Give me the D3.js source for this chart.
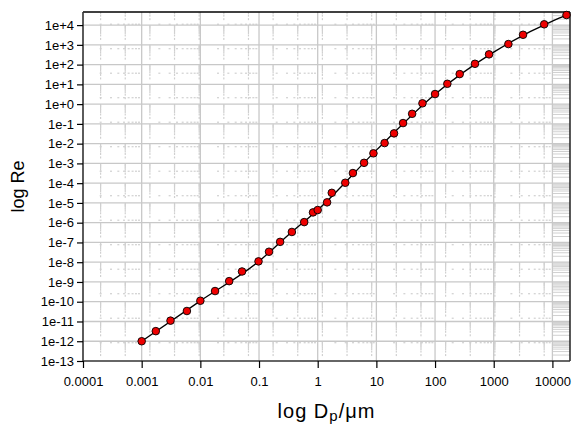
<!DOCTYPE html>
<html>
<head>
<meta charset="utf-8">
<script src="https://cdn.jsdelivr.net/npm/d3@7"></script>
<style>
  body { margin: 0; background: #fff; }
  svg { display: block; font-family: "Liberation Sans", Arial, sans-serif; }
</style>
</head>
<body>
<svg id="chart" width="572" height="427"></svg>
<script>
// ---- data ----
const pointD  = [0.001, 0.00174, 0.0031, 0.0059, 0.01, 0.0178, 0.031, 0.0513, 0.098, 0.148,
                 0.229, 0.363, 0.589, 0.832, 1.0, 1.445, 1.738, 2.95, 3.98, 6.17,
                 8.91, 13.8, 20.0, 28.5, 40.7, 61.0, 100, 162, 263, 479,
                 832, 1778, 3162, 7244, 17378];
const pointRe = [1.0e-12, 3.24e-12, 1.10e-11, 3.39e-11, 1.12e-10, 3.47e-10, 1.10e-9, 3.39e-9, 1.10e-8, 3.39e-8,
                 1.07e-7, 3.39e-7, 1.07e-6, 3.31e-6, 4.37e-6, 1.07e-5, 3.24e-5, 1.05e-4, 3.24e-4, 1.07e-3,
                 3.24e-3, 1.07e-2, 3.31e-2, 0.110, 0.324, 1.10, 3.24, 10.7, 33.1, 110,
                 331, 1096, 3236, 10965, 32359];
// fitted curve, knots
const curveD  = [0.001, 0.01, 0.1, 0.316, 1, 10, 100, 1000, 10000, 19953];
const curveRe = [1.0e-12, 1.1e-10, 1.12e-8, 2.4e-7, 4.4e-6, 4.7e-3, 3.2, 430, 1.6e4, 3.7e4];

const xTicks = [1e-4, 1e-3, 1e-2, 1e-1, 1, 10, 100, 1000, 10000];
const xTickLabels = ["0.0001", "0.001", "0.01", "0.1", "1", "10", "100", "1000", "10000"];
const yTicks = [1e4, 1e3, 1e2, 1e1, 1e0, 1e-1, 1e-2, 1e-3, 1e-4, 1e-5, 1e-6, 1e-7, 1e-8, 1e-9, 1e-10, 1e-11, 1e-12, 1e-13];
const yTickLabels = ["1e+4", "1e+3", "1e+2", "1e+1", "1e+0", "1e-1", "1e-2", "1e-3", "1e-4", "1e-5", "1e-6",
                     "1e-7", "1e-8", "1e-9", "1e-10", "1e-11", "1e-12", "1e-13"];
const xDomain = [1e-4, 19953];
const yDomain = [1e-13, 4.6e4];

// ---- layout ----
const svg = d3.select("#chart");
const L = 83, R = 570, T = 12, B = 361;
const x = d3.scaleLog().domain(xDomain).range([L, R]);
const y = d3.scaleLog().domain(yDomain).range([B, T]);

const gridCol = "#c8c8c8";
const g = svg.append("g");

// minor log positions
const minorX = [];
for (let e = -4; e <= 4; e++) for (let m = 2; m <= 9; m++) { const v = m * Math.pow(10, e); if (v < xDomain[1]) minorX.push(v); }
const minorY = [];
for (let e = -13; e <= 4; e++) for (let m = 2; m <= 9; m++) { const v = m * Math.pow(10, e); if (v < yDomain[1]) minorY.push(v); }

// faint dotted decorative grid (rows/columns of minor-tick dashes)
const rowLog = d3.range(4.05, -13, -1.24);
const colLog = d3.range(-3.7, 4.0, 0.42);
const decor = g.append("g").attr("fill", "#d0d0d0");
rowLog.forEach(r => {
  const yy = y(Math.pow(10, r));
  decor.selectAll(null).data(minorX.filter(v => v < 10000)).enter().append("rect")
    .attr("x", d => x(d) - 1).attr("y", yy - 0.5).attr("width", 2).attr("height", 1.2);
});
colLog.forEach(c => {
  const xx = x(Math.pow(10, c));
  decor.selectAll(null).data(minorY).enter().append("rect")
    .attr("x", xx - 0.6).attr("y", d => y(d) - 1).attr("width", 1.2).attr("height", 2);
});

// dense minor horizontal lines in the last decade band
g.append("g").selectAll("line").data(minorY).enter().append("line")
  .attr("x1", x(10000)).attr("x2", R).attr("y1", d => y(d)).attr("y2", d => y(d))
  .attr("stroke", "#d0d0d0").attr("stroke-width", 1);

// major grid
g.append("g").selectAll("line").data(xTicks.slice(1)).enter().append("line")
  .attr("x1", d => x(d)).attr("x2", d => x(d)).attr("y1", T).attr("y2", B)
  .attr("stroke", gridCol).attr("stroke-width", 1.3);
g.append("g").selectAll("line").data(yTicks.slice(0, -1)).enter().append("line")
  .attr("x1", L).attr("x2", R).attr("y1", d => y(d)).attr("y2", d => y(d))
  .attr("stroke", gridCol).attr("stroke-width", 1.3);

// frame
svg.append("line").attr("x1", L).attr("x2", R).attr("y1", T).attr("y2", T).attr("stroke", "#000").attr("stroke-width", 1.5);
svg.append("line").attr("x1", R).attr("x2", R).attr("y1", T).attr("y2", B).attr("stroke", "#222").attr("stroke-width", 1.5);

// axes
const xAxis = d3.axisBottom(x).tickValues(xTicks).tickFormat((d, i) => xTickLabels[i]).tickSize(7).tickPadding(9);
const yAxis = d3.axisLeft(y).tickValues(yTicks).tickFormat((d, i) => yTickLabels[i]).tickSize(6).tickPadding(3);
const gx = svg.append("g").attr("transform", `translate(0,${B})`).call(xAxis);
const gy = svg.append("g").attr("transform", `translate(${L},0)`).call(yAxis);
[gx, gy].forEach(a => {
  a.select(".domain").attr("stroke", "#333").attr("stroke-width", 1.6);
  a.selectAll(".tick line").attr("stroke", "#000").attr("stroke-width", 1.2);
  a.selectAll(".tick text").attr("fill", "#000").style("font-size", "13px")
    .style("font-family", '"Liberation Sans", Arial, sans-serif');
});
gx.select(".domain").attr("d", `M${L},0H${R}`);
gy.select(".domain").attr("d", `M0,${T}V${B}`);

// curve
const line = d3.line().x((d, i) => x(curveD[i])).y((d, i) => y(curveRe[i])).curve(d3.curveMonotoneX);
svg.append("path").datum(curveD).attr("d", line).attr("fill", "none").attr("stroke", "#000").attr("stroke-width", 1.3);

// points
svg.append("g").selectAll("circle").data(pointD).enter().append("circle")
  .attr("cx", d => x(d)).attr("cy", (d, i) => y(pointRe[i])).attr("r", 3.8)
  .attr("fill", "#ee0000").attr("stroke", "#000").attr("stroke-width", 0.9);

// axis titles
svg.append("text").attr("transform", `translate(24,${(T + B) / 2}) rotate(-90)`)
  .attr("text-anchor", "middle").style("font-size", "18px").text("log Re");
const xt = svg.append("text").attr("x", (L + R) / 2).attr("y", 418).attr("text-anchor", "middle")
  .style("font-size", "20px").style("letter-spacing", "1px");
xt.append("tspan").text("log D");
xt.append("tspan").attr("dy", 3).style("font-size", "15px").text("p");
xt.append("tspan").attr("dy", -3).text("/μm");
</script>
</body>
</html>
